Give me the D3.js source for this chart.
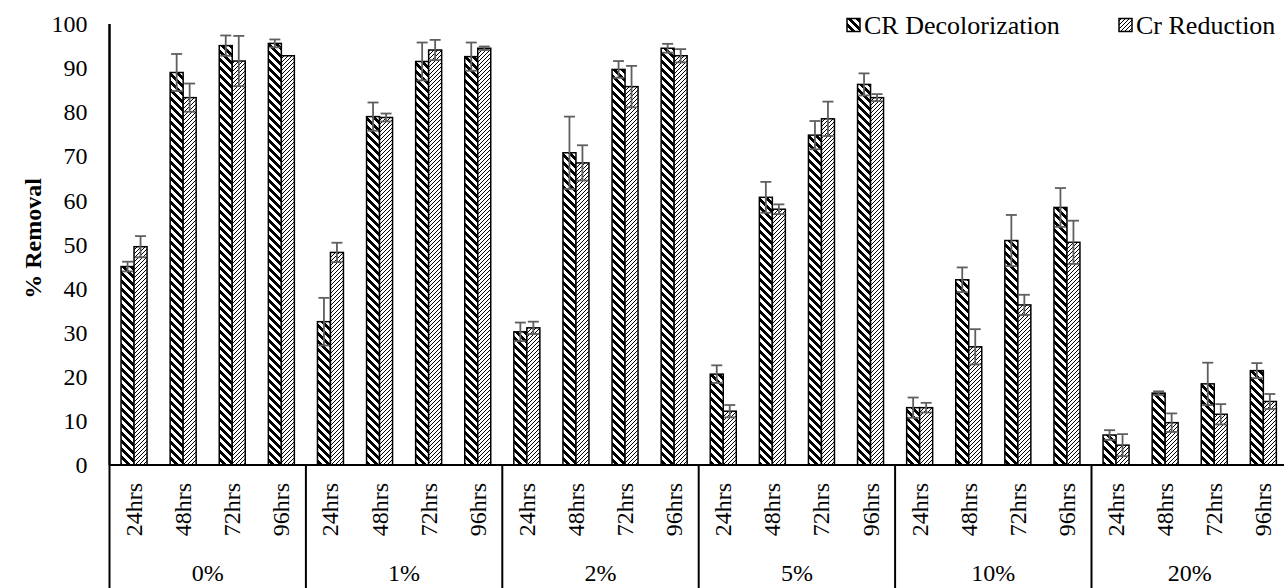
<!DOCTYPE html>
<html>
<head>
<meta charset="utf-8">
<script src="https://cdn.jsdelivr.net/npm/d3@7"></script>
<style>
  body { margin: 0; background: #fff; }
  svg { display: block; font-family: "Liberation Serif", "Times New Roman", serif; }
</style>
</head>
<body>
<svg id="chart"></svg>
<script>
// concentrations (outer category) and sampling times (inner category)
const concentrations = ["0%", "1%", "2%", "5%", "10%", "20%"];
const hours = ["24hrs", "48hrs", "72hrs", "96hrs"];
const seriesNames = ["CR Decolorization", "Cr Reduction"];

// % removal, one row per concentration
const crDecolorization = [
  [45.0, 89.0, 95.1, 95.6],
  [32.5, 79.0, 91.5, 92.6],
  [30.2, 70.8, 89.7, 94.5],
  [20.6, 60.7, 74.8, 86.3],
  [13.0, 42.0, 50.9, 58.4],
  [6.8, 16.3, 18.4, 21.4]
];
const crDecolorizationErr = [
  [1.1, 4.2, 2.3, 0.9],
  [5.4, 3.2, 4.3, 3.2],
  [2.1, 8.2, 1.9, 1.0],
  [2.0, 3.5, 3.2, 2.5],
  [2.3, 2.8, 5.8, 4.4],
  [1.1, 0.4, 4.8, 1.7]
];
const crReduction = [
  [49.5, 83.3, 91.6, 92.8],
  [48.2, 78.8, 94.1, 94.5],
  [31.1, 68.5, 85.8, 92.8],
  [12.2, 58.0, 78.5, 83.3],
  [13.0, 26.8, 36.3, 50.5],
  [4.5, 9.6, 11.5, 14.4]
];
const crReductionErr = [
  [2.4, 3.2, 5.7, 0.0],
  [2.2, 0.9, 2.3, 0.4],
  [1.4, 4.0, 4.7, 1.5],
  [1.4, 1.1, 3.9, 0.8],
  [1.1, 4.0, 2.3, 4.9],
  [2.5, 2.1, 2.3, 1.7]
];
const yTicks = [0, 10, 20, 30, 40, 50, 60, 70, 80, 90, 100];

const config = {
  width: 1284,
  height: 588,
  left: 109.5,
  top: 24,
  bottom: 465,
  groupWidth: 196.4,
  barWidth: 13,
  fontSize: 24
};

const svg = d3.select("#chart")
    .attr("width", config.width)
    .attr("height", config.height);

// fill patterns, aligned to the page like Excel's bitmap fills
const defs = svg.append("defs");

// wide downward diagonal
const wide = defs.append("pattern")
    .attr("id", "wideDown")
    .attr("patternUnits", "userSpaceOnUse")
    .attr("width", 8).attr("height", 8);
wide.append("rect").attr("width", 8).attr("height", 8).attr("fill", "#fff");
for (let r = 0; r < 8; r++) {
  for (let k = -1; k < 3; k++) {
    wide.append("rect")
        .attr("x", (r + k + 8) % 8).attr("y", r)
        .attr("width", 1).attr("height", 1)
        .attr("fill", "#000");
  }
}

// light upward diagonal
const light = defs.append("pattern")
    .attr("id", "lightUp")
    .attr("patternUnits", "userSpaceOnUse")
    .attr("width", 4).attr("height", 4);
light.append("rect").attr("width", 4).attr("height", 4).attr("fill", "#fff");
for (let r = 0; r < 4; r++) {
  light.append("rect")
      .attr("x", 3 - r).attr("y", r)
      .attr("width", 1).attr("height", 1)
      .attr("fill", "#000");
}

const fills = ["url(#wideDown)", "url(#lightUp)"];

// scales
const xGroup = d3.scaleBand()
    .domain(concentrations)
    .range([config.left, config.left + concentrations.length * config.groupWidth]);
const xHour = d3.scaleBand()
    .domain(hours)
    .range([0, config.groupWidth]);
const xSeries = d3.scaleBand()
    .domain(seriesNames)
    .range([xHour.bandwidth() / 2 - config.barWidth, xHour.bandwidth() / 2 + config.barWidth]);
const y = d3.scaleLinear()
    .domain([0, 100])
    .range([config.bottom, config.top]);

// flatten into bar records
const bars = [];
concentrations.forEach((c, gi) => {
  hours.forEach((h, hi) => {
    bars.push({ c, h, s: seriesNames[0], v: crDecolorization[gi][hi], e: crDecolorizationErr[gi][hi], f: fills[0] });
    bars.push({ c, h, s: seriesNames[1], v: crReduction[gi][hi], e: crReductionErr[gi][hi], f: fills[1] });
  });
});
const barX = d => xGroup(d.c) + xHour(d.h) + xSeries(d.s);

// bars
svg.append("g").selectAll("rect")
    .data(bars)
    .join("rect")
    .attr("x", barX)
    .attr("y", d => y(d.v))
    .attr("width", xSeries.bandwidth())
    .attr("height", d => y(0) - y(d.v))
    .attr("fill", d => d.f)
    .attr("stroke", "#000")
    .attr("stroke-width", 1.5);

// error bars
const errG = svg.append("g")
    .attr("stroke", "#5f5f5f")
    .attr("stroke-width", 1.8)
    .attr("fill", "none");
const capHalf = 5.5;
const withErr = bars.filter(d => d.e > 0);
errG.selectAll(".stem")
    .data(withErr)
    .join("line")
    .attr("class", "stem")
    .attr("x1", d => barX(d) + xSeries.bandwidth() / 2)
    .attr("x2", d => barX(d) + xSeries.bandwidth() / 2)
    .attr("y1", d => y(d.v - d.e))
    .attr("y2", d => y(d.v + d.e));
errG.selectAll(".capTop")
    .data(withErr)
    .join("line")
    .attr("class", "capTop")
    .attr("x1", d => barX(d) + xSeries.bandwidth() / 2 - capHalf)
    .attr("x2", d => barX(d) + xSeries.bandwidth() / 2 + capHalf)
    .attr("y1", d => y(d.v + d.e))
    .attr("y2", d => y(d.v + d.e));
errG.selectAll(".capBottom")
    .data(withErr)
    .join("line")
    .attr("class", "capBottom")
    .attr("x1", d => barX(d) + xSeries.bandwidth() / 2 - capHalf)
    .attr("x2", d => barX(d) + xSeries.bandwidth() / 2 + capHalf)
    .attr("y1", d => y(d.v - d.e))
    .attr("y2", d => y(d.v - d.e));

// y axis
const yAxisG = svg.append("g")
    .attr("transform", `translate(${config.left},0)`)
    .call(d3.axisLeft(y).tickValues(yTicks).tickSize(0).tickPadding(22));
yAxisG.select(".domain")
    .attr("d", `M0,${config.top}V${config.bottom}`)
    .attr("stroke", "#000")
    .attr("stroke-width", 2);
yAxisG.selectAll("text")
    .attr("font-family", "Liberation Serif")
    .attr("font-size", config.fontSize)
    .attr("fill", "#000");

svg.append("text")
    .attr("transform", `translate(33,${(config.top + config.bottom) / 2 - 6}) rotate(-90)`)
    .attr("text-anchor", "middle")
    .attr("dominant-baseline", "central")
    .attr("font-size", config.fontSize)
    .attr("font-weight", "bold")
    .text("% Removal");

// x axis: baseline plus multi-level category labels
svg.append("line")
    .attr("x1", config.left).attr("x2", config.width)
    .attr("y1", y(0)).attr("y2", y(0))
    .attr("stroke", "#000").attr("stroke-width", 2);

const sepX = concentrations.map(c => xGroup(c));
svg.append("g").selectAll("line")
    .data(sepX)
    .join("line")
    .attr("x1", d => d).attr("x2", d => d)
    .attr("y1", d => d === config.left ? config.top : y(0))
    .attr("y2", config.height)
    .attr("stroke", "#000")
    .attr("stroke-width", 2);

const hourLabels = [];
concentrations.forEach(c => hours.forEach(h => hourLabels.push({ c, h })));
svg.append("g").selectAll("text")
    .data(hourLabels)
    .join("text")
    .attr("transform", d => `translate(${xGroup(d.c) + xHour(d.h) + xHour.bandwidth() / 2},483) rotate(-90)`)
    .attr("text-anchor", "end")
    .attr("dominant-baseline", "central")
    .attr("font-size", config.fontSize)
    .text(d => d.h);

svg.append("g").selectAll("text")
    .data(concentrations)
    .join("text")
    .attr("x", d => xGroup(d) + xGroup.bandwidth() / 2)
    .attr("y", 573)
    .attr("text-anchor", "middle")
    .attr("dominant-baseline", "central")
    .attr("font-size", config.fontSize)
    .text(d => d);

// legend
const legendItems = [
  { name: seriesNames[0], f: fills[0], x: 847 },
  { name: seriesNames[1], f: fills[1], x: 1119 }
];
const legend = svg.append("g").selectAll("g")
    .data(legendItems)
    .join("g")
    .attr("transform", d => `translate(${d.x},25)`);
legend.append("rect")
    .attr("x", 0).attr("y", -6.5)
    .attr("width", 13).attr("height", 13)
    .attr("fill", d => d.f)
    .attr("stroke", "#000")
    .attr("stroke-width", 1.5);
legend.append("text")
    .attr("x", 17)
    .attr("dominant-baseline", "central")
    .attr("font-size", 26)
    .text(d => d.name);
</script>
</body>
</html>
